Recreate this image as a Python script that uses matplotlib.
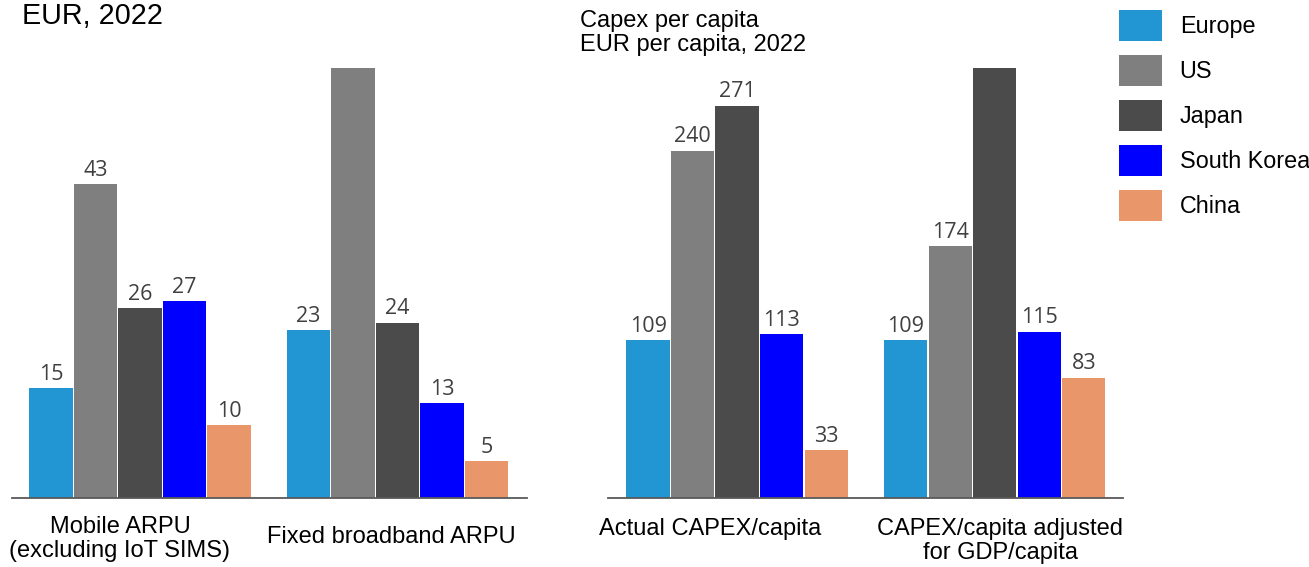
import numpy as np
import matplotlib
matplotlib.use("Agg")
import matplotlib.pyplot as plt
from matplotlib.patches import Patch

countries = ["Europe", "US", "Japan", "South Korea", "China"]
colors = ["#2196d2", "#7f7f7f", "#4b4b4b", "#0000fe", "#e8966a"]

# ARPU, EUR 2022 (US fixed broadband runs off the top of the chart)
arpu_groups = ["Mobile ARPU\n(excluding IoT SIMS)", "Fixed broadband ARPU"]
arpu_mobile = [15, 43, 26, 27, 10]
arpu_fixed = [23, 60, 24, 13, 5]

# Capex per capita, EUR 2022 (Japan adjusted runs off the top)
capex_groups = ["Actual CAPEX/capita", "CAPEX/capita adjusted\nfor GDP/capita"]
capex_actual = [109, 240, 271, 113, 33]
capex_adjusted = [109, 174, 300, 115, 83]

plt.rcParams["font.family"] = ["Liberation Sans", "DejaVu Sans"]

W, H = 1309, 567
fig = plt.figure(figsize=(W / 100, H / 100), dpi=100)

def px_axes(x0, x1, y_top, y_base):
    return fig.add_axes([x0 / W, (H - y_base) / H, (x1 - x0) / W, (y_base - y_top) / H])

ax1 = px_axes(12, 527, 68, 498)
ax2 = px_axes(608, 1123, 68, 498)

offsets = np.arange(5) - 2
gap = 5.79

def draw(ax, series, ymax, xlim):
    for g, vals in enumerate(series):
        xs = g * gap + offsets
        bars = ax.bar(xs, vals, width=0.97, color=colors)
        for b, v in zip(bars, vals):
            ax.annotate(str(v), (b.get_x() + b.get_width() / 2, v),
                        xytext=(0, 6), textcoords="offset points",
                        ha="center", va="baseline", fontsize=15.5,
                        family="Open Sans", color="#404040",
                        annotation_clip=True)
    ax.set_ylim(0, ymax)
    ax.set_xlim(*xlim)
    for s in ["top", "right", "left"]:
        ax.spines[s].set_visible(False)
    ax.spines["bottom"].set_color("#595959")
    ax.spines["bottom"].set_linewidth(1.3)
    ax.set_yticks([])
    ax.set_xticks([])

draw(ax1, [arpu_mobile, arpu_fixed], 58.9, (-2.876, 8.70))
draw(ax2, [capex_actual, capex_adjusted], 297, (-2.90, 8.67))

tr1 = ax1.get_xaxis_transform()
ax1.text(-0.45, -0.0953, arpu_groups[0], transform=tr1, ha="center", va="center",
         fontsize=17, linespacing=1.15)
ax1.text(5.64, -0.0907, arpu_groups[1], transform=tr1, ha="center", va="center",
         fontsize=17)
tr2 = ax2.get_xaxis_transform()
ax2.text(-0.61, -0.072, capex_groups[0], transform=tr2, ha="center", va="center",
         fontsize=17)
ax2.text(5.91, -0.10, capex_groups[1], transform=tr2, ha="center", va="center",
         fontsize=17, linespacing=1.15)

fig.text(22 / W, 1 - 2.5 / H, "EUR, 2022", ha="left", va="top", fontsize=20.7)
fig.text(580 / W, 1 - 10.5 / H, "Capex per capita\nEUR per capita, 2022",
         ha="left", va="top", fontsize=17, linespacing=1.1)

handles = [Patch(facecolor=c, label=n) for c, n in zip(colors, countries)]
fig.legend(handles=handles, loc="upper left", bbox_to_anchor=(1119 / W, 1 - 10 / H),
           frameon=False, fontsize=16.8, handlelength=1.85, handleheight=1.69,
           labelspacing=0.58, handletextpad=0.75, borderpad=0, borderaxespad=0)

fig.savefig("out.png", dpi=100)
